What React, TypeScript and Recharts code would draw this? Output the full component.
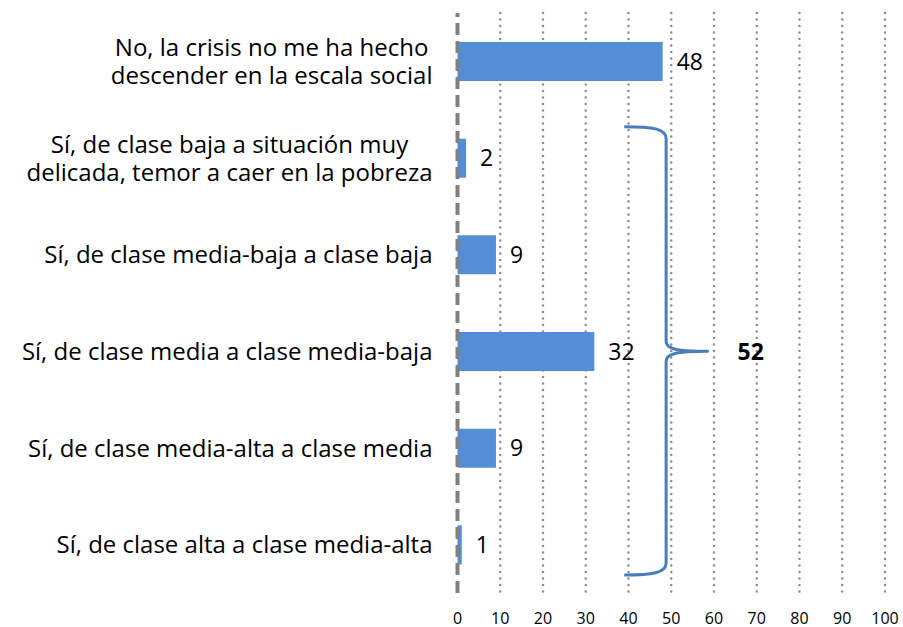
import React, { useLayoutEffect, useRef, useState } from "react";
import {
  BarChart,
  Bar,
  XAxis,
  YAxis,
  CartesianGrid,
  ReferenceLine,
  ReferenceArea,
  LabelList,
} from "recharts";

const categories = [
  "No, la crisis no me ha hecho\ndescender en la escala social",
  "Sí, de clase baja a situación muy\ndelicada, temor a caer en la pobreza",
  "Sí, de clase media-baja a clase baja",
  "Sí, de clase media a clase media-baja",
  "Sí, de clase media-alta a clase media",
  "Sí, de clase alta a clase media-alta",
];
const values = [48, 2, 9, 32, 9, 1];
const xTicks = [0, 10, 20, 30, 40, 50, 60, 70, 80, 90, 100];
const groupTotal = 52;

const FONT = "'Open Sans', sans-serif";
const BAR_COLOR = "#558ED5";
const BRACE_COLOR = "#4A7EBB";

const data = categories.map((name, i) => ({ name, value: values[i] }));

// brace spans (in x units)
const braceStart = 39;
const braceSpine = 48.8;
const braceTip = 58.5;

function CatTick(props: any) {
  const { x, y, payload } = props;
  const ref = useRef<SVGGElement>(null);
  const [w, setW] = useState(0);
  const lines: string[] = String(payload.value).split("\n");
  useLayoutEffect(() => {
    if (ref.current) {
      const bb = ref.current.getBBox();
      if (Math.abs(bb.width - w) > 0.5) setW(bb.width);
    }
  });
  const right = x - 25;
  const lh = 28;
  const firstBase = y + 8.5 - ((lines.length - 1) * lh) / 2;
  return (
    <g ref={ref}>
      {lines.map((l, i) => (
        <text
          key={i}
          x={right - w / 2}
          y={firstBase + i * lh}
          textAnchor="middle"
          fontFamily={FONT}
          fontSize={24}
          fill="#000"
        >
          {l}
        </text>
      ))}
    </g>
  );
}

function Brace(props: any) {
  const { x, y, width, height, midY } = props;
  if (x == null || width == null) return null;
  const scale = width / (braceTip - braceStart);
  const x0 = x;
  const xs = x + (braceSpine - braceStart) * scale;
  const tip = x + width;
  const yt = y + 17;
  const yb = y + height - 18;
  const ym = midY;
  const d = [
    `M ${x0} ${yt}`,
    `C ${x0 + 28} ${yt}, ${xs} ${yt + 2}, ${xs} ${yt + 12}`,
    `L ${xs} ${ym - 10}`,
    `C ${xs} ${ym - 3}, ${xs + 8} ${ym}, ${tip} ${ym}`,
    `C ${xs + 8} ${ym}, ${xs} ${ym + 3}, ${xs} ${ym + 10}`,
    `L ${xs} ${yb - 12}`,
    `C ${xs} ${yb - 2}, ${x0 + 28} ${yb}, ${x0} ${yb}`,
  ].join(" ");
  return (
    <g>
      <path d={d} fill="none" stroke={BRACE_COLOR} strokeWidth={3} strokeLinejoin="round" />
      <text
        x={tip + 30}
        y={ym}
        dominantBaseline="central"
        fontFamily={FONT}
        fontSize={23}
        fontWeight="bold"
        fill="#000"
      >
        {groupTotal}
      </text>
    </g>
  );
}

export default function App() {
  const PLOT_TOP = 5;
  const PLOT_H = 580;
  const band = PLOT_H / categories.length;
  const midY = PLOT_TOP + band * 3.5;
  const gridGen = (args: any) => {
    const xa = args && args.xAxis;
    if (xa && typeof xa.scale === "function") {
      return xTicks.filter((t) => t > 0).map((t) => xa.scale(t));
    }
    const off = args.offset;
    return xTicks.filter((t) => t > 0).map((t) => off.left + (t / 100) * off.width);
  };
  return (
    <div style={{ width: 903, height: 627, paddingLeft: 8, paddingTop: 8, boxSizing: "border-box" }}>
      <style>{`html,body{margin:0;padding:0;overflow:hidden;}`}</style>
      <BarChart
        width={895}
        height={619}
        data={data}
        layout="vertical"
        margin={{ top: 5, right: 18, bottom: 0, left: 0 }}
        barCategoryGap="30%"
      >
        <CartesianGrid
          horizontal={false}
          vertical={true}
          verticalCoordinatesGenerator={gridGen}
          stroke="#8C8C8C"
          strokeWidth={2.5}
          strokeDasharray="0.1 6.4"
          strokeLinecap="round"
        />
        <XAxis
          type="number"
          domain={[0, 100]}
          ticks={xTicks}
          interval={0}
          axisLine={false}
          tickLine={false}
          tickSize={0}
          tickMargin={20}
          height={34}
          tick={{ fontFamily: FONT, fontSize: 16, fill: "#000" }}
        />
        <YAxis
          type="category"
          dataKey="name"
          width={449.5}
          axisLine={false}
          tickLine={false}
          tickSize={0}
          tickMargin={0}
          interval={0}
          tick={<CatTick />}
        />
        <Bar dataKey="value" fill={BAR_COLOR} isAnimationActive={false}>
          <LabelList
            dataKey="value"
            position="right"
            offset={14}
            fontFamily={FONT}
            fontSize={23}
            fill="#000"
          />
        </Bar>
        <ReferenceLine
          x={0}
          stroke="#808080"
          strokeWidth={4}
          strokeDasharray="12 6"
        />
        <ReferenceArea
          x1={braceStart}
          x2={braceTip}
          y1={categories[1]}
          y2={categories[5]}
          ifOverflow="visible"
          shape={(p: any) => <Brace {...p} midY={midY} />}
        />
      </BarChart>
    </div>
  );
}
